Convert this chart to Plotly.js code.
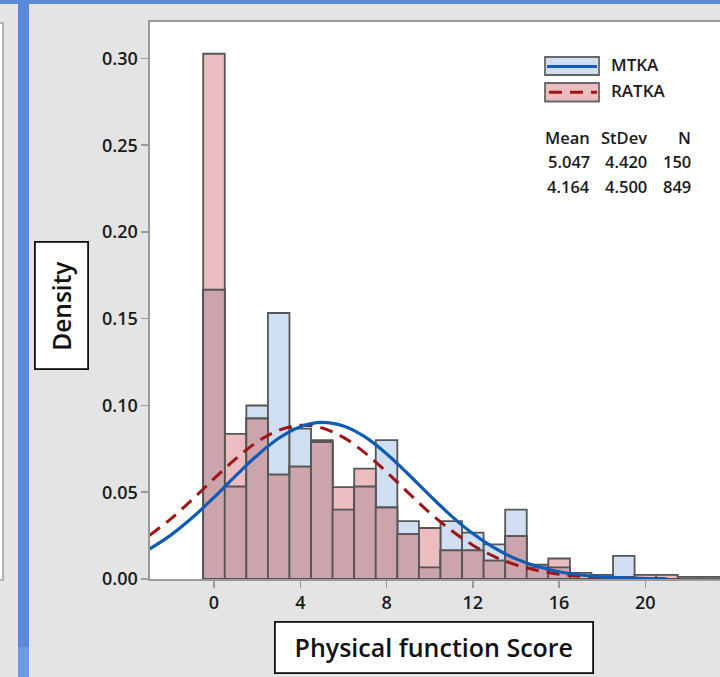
<!DOCTYPE html>
<html><head><meta charset="utf-8">
<script src="https://cdn.plot.ly/plotly-3.0.1.min.js"></script>
<style>html,body{margin:0;padding:0;background:#e4e4e4;} #chart{width:720px;height:677px;}</style>
</head><body><div id="chart"></div>
<script>
// ---- data ----
const binCenters   = [0,1,2,3,4,5,6,7,8,9,10,11,12,13,14,15,16,17,18,19,20,21,22,23];
const mtkaDensity  = [0.1667,0.0533,0.1000,0.1533,0.0867,0.0800,0.0400,0.0533,0.0800,0.0333,0.0067,0.0333,0.0267,0.0200,0.0400,0.0067,0.0067,0,0,0.0133,0,0,0,0];
const ratkaDensity = [0.3027,0.0836,0.0925,0.0601,0.0648,0.0789,0.0530,0.0636,0.0412,0.0259,0.0294,0.0165,0.0165,0.0106,0.0247,0.0082,0.0118,0.0035,0.0024,0.0012,0.0024,0.0024,0.0012,0.0012];

const curveX     = [-3,-2,-1,0,1,2,3,4,5,6,7,8,9,10,11,12,13,14,15,16,17,18,19,20,21];
const mtkaCurve  = [0.0172,0.0253,0.0354,0.0470,0.0594,0.0712,0.0811,0.0878,0.0903,0.0882,0.0819,0.0722,0.0605,0.0482,0.0364,0.0262,0.0179,0.0116,0.0072,0.0042,0.0023,0.0012,0.0006,0.0003,0.0001];
const ratkaCurve = [0.0250,0.0347,0.0459,0.0578,0.0692,0.0790,0.0857,0.0886,0.0871,0.0816,0.0727,0.0617,0.0498,0.0382,0.0280,0.0195,0.0129,0.0081,0.0049,0.0028,0.0015,0.0008,0.0004,0.0002,0.0001];

const groupNames  = ['MTKA','RATKA'];
const statHeaders = ['Mean','StDev','N'];
const statMeans   = ['5.047','4.164'];
const statStDevs  = ['4.420','4.500'];
const statNs      = ['150','849'];

const yTickVals = [0,0.05,0.10,0.15,0.20,0.25,0.30];
const xTickVals = [0,4,8,12,16,20];
const xTitle = 'Physical function Score';
const yTitle = 'Density';

// ---- styling ----
const FONT = '"Open Sans", "Noto Sans", sans-serif';
const outline = {color:'#555555', width:1.8};
const blueFill = '#cfdef0', pinkFill = '#ebbdc0', mauveFill = '#cca4ac';
const blueLine = '#0f5bb5', redLine = '#9e1515';

const overlap = mtkaDensity.map((v,i)=>Math.min(v, ratkaDensity[i]));

const traces = [
  {type:'bar', x:binCenters, y:mtkaDensity, width:1, marker:{color:blueFill, line:outline}, hoverinfo:'skip', showlegend:false},
  {type:'bar', x:binCenters, y:ratkaDensity, width:1, marker:{color:pinkFill, line:outline}, hoverinfo:'skip', showlegend:false},
  {type:'bar', x:binCenters, y:overlap, width:1, marker:{color:mauveFill, line:outline}, hoverinfo:'skip', showlegend:false},
  {type:'scatter', mode:'lines', x:curveX, y:ratkaCurve, line:{color:redLine, width:3, dash:'13px,8px', shape:'spline'}, hoverinfo:'skip', showlegend:false},
  {type:'scatter', mode:'lines', x:curveX, y:mtkaCurve, line:{color:blueLine, width:3.2, shape:'spline'}, hoverinfo:'skip', showlegend:false}
];

// pixel -> paper helpers (plot area: x 150..720, y 22..579)
const L=150, W=570, B=579, H=557;
const px = v => (v-L)/W;
const py = v => (B-v)/H;

const shapes = [
  {type:'rect', xref:'paper', yref:'paper', x0:px(0), x1:px(720), y0:py(4), y1:py(0), fillcolor:'#5a89da', line:{width:0}, layer:'below'},
  {type:'rect', xref:'paper', yref:'paper', x0:px(-6), x1:px(3), y0:py(580), y1:py(23), fillcolor:'#ffffff', line:{color:'#a0a0a0', width:1.5}, layer:'below'},
  {type:'rect', xref:'paper', yref:'paper', x0:px(18), x1:px(29), y0:py(677), y1:py(0), fillcolor:'#5a89da', line:{width:0}, layer:'below'},
  {type:'rect', xref:'paper', yref:'paper', x0:px(18), x1:px(29), y0:py(677), y1:py(647), fillcolor:'#6e9ae2', line:{width:0}, layer:'below'},
  {type:'rect', xref:'paper', yref:'paper', x0:px(545), x1:px(599), y0:py(75), y1:py(57), fillcolor:blueFill, line:{color:'#666666', width:1.8}},
  {type:'line', xref:'paper', yref:'paper', x0:px(547), x1:px(597), y0:py(66.5), y1:py(66.5), line:{color:blueLine, width:3.2}},
  {type:'rect', xref:'paper', yref:'paper', x0:px(545), x1:px(599), y0:py(101.5), y1:py(83), fillcolor:pinkFill, line:{color:'#666666', width:1.8}},
  {type:'line', xref:'paper', yref:'paper', x0:px(549), x1:px(597), y0:py(92.3), y1:py(92.3), line:{color:redLine, width:3, dash:'13px,8px'}}
];

const txt = (text, x, y, xanchor, size) => ({text, xref:'paper', yref:'paper', x:px(x), y:py(y), xanchor, yanchor:'middle', showarrow:false, font:{family:FONT, size:size, color:'#1a1a1a', weight:600}});

const annotations = [
  txt(groupNames[0], 609, 64, 'left', 17),
  txt(groupNames[1], 609, 90, 'left', 17),
  txt(statHeaders[0], 592, 137.7, 'right', 16.5),
  txt(statHeaders[1], 649, 137.7, 'right', 16.5),
  txt(statHeaders[2], 693, 137.7, 'right', 16.5),
  txt(statMeans[0], 592, 161.7, 'right', 16.5),
  txt(statStDevs[0], 649, 161.7, 'right', 16.5),
  txt(statNs[0], 693, 161.7, 'right', 16.5),
  txt(statMeans[1], 592, 186.7, 'right', 16.5),
  txt(statStDevs[1], 649, 186.7, 'right', 16.5),
  txt(statNs[1], 693, 186.7, 'right', 16.5),
  {text:yTitle, xref:'paper', yref:'paper', x:px(61.5), y:py(305.5), xanchor:'center', yanchor:'middle', textangle:-90,
   showarrow:false, width:125, height:51, bgcolor:'#ffffff', bordercolor:'#111111', borderwidth:1.8, borderpad:0,
   font:{family:FONT, size:24.5, color:'#111111', weight:600}},
  {text:xTitle, xref:'paper', yref:'paper', x:px(434), y:py(647.5), xanchor:'center', yanchor:'middle',
   showarrow:false, width:316, height:49, bgcolor:'#ffffff', bordercolor:'#111111', borderwidth:1.8, borderpad:0,
   font:{family:FONT, size:25, color:'#111111', weight:600}}
];

const layout = {
  width:720, height:677,
  margin:{l:150, r:0, t:22, b:98, pad:0},
  paper_bgcolor:'#e4e4e4', plot_bgcolor:'#ffffff',
  barmode:'overlay', bargap:0,
  showlegend:false,
  xaxis:{range:[-2.967, 23.46], tickvals:xTickVals, ticks:'outside', ticklen:7, tickwidth:1.5, tickcolor:'#9a9a9a',
         showline:true, linecolor:'#9a9a9a', linewidth:1.6, mirror:true, showgrid:false, zeroline:false,
         tickfont:{family:FONT, size:18, color:'#1a1a1a', weight:600}},
  yaxis:{range:[0, 0.321], tickvals:yTickVals, tickformat:'.2f', ticks:'outside', ticklen:7, tickwidth:1.5, tickcolor:'#9a9a9a',
         showline:true, linecolor:'#9a9a9a', linewidth:1.6, showgrid:false, zeroline:false,
         tickfont:{family:FONT, size:18, color:'#1a1a1a', weight:600}},
  shapes, annotations
};

Plotly.newPlot('chart', traces, layout, {staticPlot:true, displayModeBar:false});
</script></body></html>
